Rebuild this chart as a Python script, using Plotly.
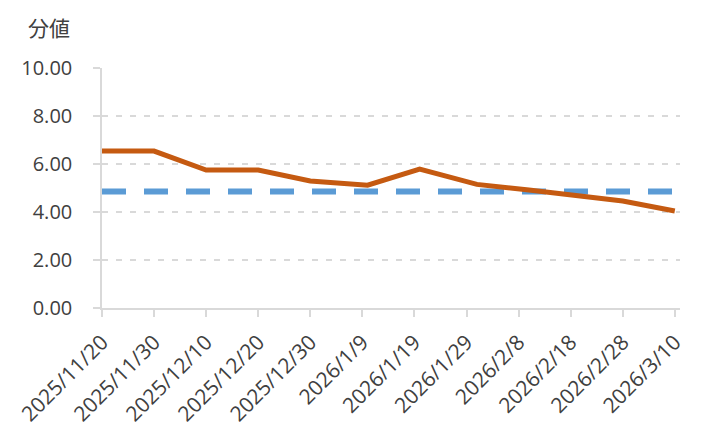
import plotly.graph_objects as go

# Data
dates = ["2025-11-20", "2025-11-30", "2025-12-10", "2025-12-20", "2025-12-30",
         "2026-01-10", "2026-01-20", "2026-01-31", "2026-02-10", "2026-02-20",
         "2026-02-28", "2026-03-10"]
values = [6.54, 6.54, 5.75, 5.75, 5.29, 5.12, 5.79, 5.15, 4.92, 4.68, 4.46, 4.04]
avg_dates = ["2025-11-20", "2026-03-10"]
avg_values = [4.85, 4.85]

tick_dates = ["2025-11-20", "2025-11-30", "2025-12-10", "2025-12-20", "2025-12-30",
              "2026-01-09", "2026-01-19", "2026-01-29", "2026-02-08", "2026-02-18",
              "2026-02-28", "2026-03-10"]
tick_labels = ["2025/11/20", "2025/11/30", "2025/12/10", "2025/12/20", "2025/12/30",
               "2026/1/9", "2026/1/19", "2026/1/29", "2026/2/8", "2026/2/18",
               "2026/2/28", "2026/3/10"]
y_ticks = [0, 2, 4, 6, 8, 10]

FONT = "Open Sans, Noto Sans CJK JP, sans-serif"
TXT = "#404040"
GRID = "#d9d9d9"

fig = go.Figure()
fig.add_trace(go.Scatter(
    x=avg_dates, y=avg_values, mode="lines",
    line=dict(color="#5B9BD5", width=6, dash="24px,18px"),
    showlegend=False, hoverinfo="skip"))
fig.add_trace(go.Scatter(
    x=dates, y=values, mode="lines",
    line=dict(color="#C55A11", width=5),
    showlegend=False))

fig.update_layout(
    width=693, height=422,
    margin=dict(l=94, r=21, t=60, b=122),
    paper_bgcolor="white", plot_bgcolor="white",
    font=dict(family=FONT, size=20, color=TXT),
    xaxis=dict(
        type="date",
        range=["2025-11-20", "2026-03-11"],
        tickvals=tick_dates, ticktext=tick_labels,
        tickangle=-45, automargin=False,
        showgrid=False, zeroline=False,
        showline=True, linecolor=GRID, linewidth=1.5,
        ticks="outside", ticklen=7, tickcolor=GRID, tickwidth=1.5,
        ticklabelstandoff=5,
        tickfont=dict(size=21, color=TXT),
    ),
    yaxis=dict(
        range=[0, 10], automargin=False,
        tickvals=y_ticks, tickformat=".2f",
        showgrid=True, gridcolor=GRID, griddash="6px,8px", gridwidth=1.5,
        zeroline=False,
        showline=True, linecolor=GRID, linewidth=1.5,
        ticks="outside", ticklen=7, tickcolor=GRID, tickwidth=1.5,
        ticklabelstandoff=17,
        tickfont=dict(size=20, color=TXT),
    ),
    annotations=[dict(
        text="分値", xref="paper", yref="paper",
        x=-0.052, y=1.165, xanchor="right", yanchor="middle",
        showarrow=False, font=dict(size=21, color=TXT, family=FONT))],
)

fig.write_html("out.html")
